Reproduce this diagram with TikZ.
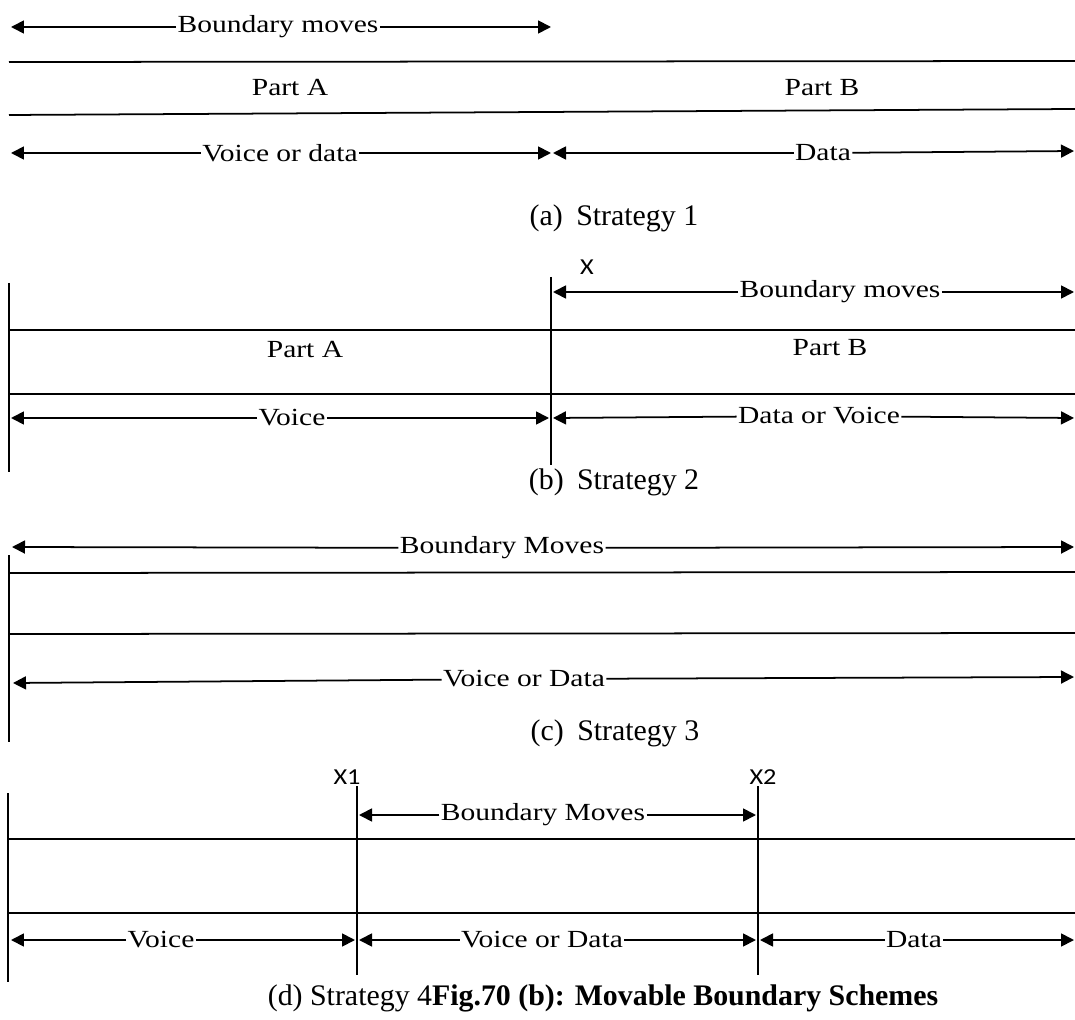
\documentclass[tikz,border=0pt]{standalone}
\usepackage{fontspec}
\setmainfont{Liberation Serif}
\newfontfamily\xfont{Carlito}
\usetikzlibrary{arrows.meta}

\tikzset{
  wire/.style={line width=1pt},
  dimarrow/.style={line width=1pt,-{Triangle[length=0.26cm,width=0.26cm]}},
  lbl/.style={font=\fontsize{14}{16}\selectfont,inner sep=0.5pt,xscale=1.2,transform shape},
  xlbl/.style={font=\xfont\fontsize{13}{15}\selectfont,inner sep=0pt,xscale=1.15,transform shape},
  capt/.style={font=\fontsize{17}{20}\selectfont,inner sep=0pt}
}

\begin{document}
\begin{tikzpicture}[x=0.02cm,y=-0.02cm]

\useasboundingbox (0,0) rectangle (1075,1020) ;

%strategy 1
\coordinate (a1) at (11,27) ;
\coordinate (a2) at (551,27) ;
\node [lbl] (abm) at (278,27) {Boundary moves} ;
\draw [dimarrow] (abm) -- (a1) ;
\draw [dimarrow] (abm) -- (a2) ;

\draw [wire] (9,62) -- (1075,61) ;
\draw [wire] (9,115) -- (1075,109) ;

\node [lbl] (apa) at (290,88) {Part A} ;
\node [lbl] (apb) at (822,88) {Part B} ;

\coordinate (a3) at (11,153) ;
\coordinate (a4) at (551,153) ;
\coordinate (a5) at (553,153) ;
\coordinate (a6) at (1074,151) ;
\node [lbl] (avd) at (280,153) {Voice or data} ;
\node [lbl] (ad) at (823,153) {Data} ;
\draw [dimarrow] (avd) -- (a3) ;
\draw [dimarrow] (avd) -- (a4) ;
\draw [dimarrow] (ad) -- (a5) ;
\draw [dimarrow] (ad) -- (a6) ;

\node [capt] (capa) at (614,218) {(a)\hspace{0.2em} Strategy 1} ;

%strategy 2
\draw [wire] (9,283) -- (9,472) ;
\draw [wire] (551,277) -- (551,465) ;
\node [xlbl] (bx) at (587,267) {X} ;

\coordinate (b1) at (553,292) ;
\coordinate (b2) at (1074,292) ;
\node [lbl] (bbm) at (840,292) {Boundary moves} ;
\draw [dimarrow] (bbm) -- (b1) ;
\draw [dimarrow] (bbm) -- (b2) ;

\draw [wire] (9,330) -- (1075,330) ;
\draw [wire] (9,394) -- (1075,394) ;

\node [lbl] (bpa) at (305,350) {Part A} ;
\node [lbl] (bpb) at (830,348) {Part B} ;

\coordinate (b3) at (11,418) ;
\coordinate (b4) at (549,418) ;
\coordinate (b5) at (553,418) ;
\coordinate (b6) at (1074,418) ;
\node [lbl] (bv) at (292,418) {Voice\hspace{0.4em}} ;
\node [lbl] (bdv) at (819,416) {Data or Voice} ;
\draw [dimarrow] (bv) -- (b3) ;
\draw [dimarrow] (bv) -- (b4) ;
\draw [dimarrow] (bdv) -- (b5) ;
\draw [dimarrow] (bdv) -- (b6) ;

\node [capt] (capb) at (614,482) {(b)\hspace{0.2em} Strategy 2} ;

%strategy 3
\draw [wire] (9,555) -- (9,742) ;

\coordinate (c1) at (12,547) ;
\coordinate (c2) at (1074,547) ;
\node [lbl] (cbm) at (502,548) {Boundary Moves} ;
\draw [dimarrow] (cbm) -- (c1) ;
\draw [dimarrow] (cbm) -- (c2) ;

\draw [wire] (9,573) -- (1075,572) ;
\draw [wire] (9,634) -- (1075,633) ;

\coordinate (c3) at (13,683) ;
\coordinate (c4) at (1074,677) ;
\node [lbl] (cvd) at (524,679) {Voice or Data} ;
\draw [dimarrow] (cvd) -- (c3) ;
\draw [dimarrow] (cvd) -- (c4) ;

\node [capt] (capc) at (615,733) {(c)\hspace{0.2em} Strategy 3} ;

%strategy 4
\draw [wire] (8,793) -- (8,982) ;
\draw [wire] (357,786) -- (357,975) ;
\draw [wire] (758,786) -- (758,975) ;
\node [xlbl] (dx1) at (347,777) {X1} ;
\node [xlbl] (dx2) at (763,777) {X2} ;

\coordinate (d1) at (359,815) ;
\coordinate (d2) at (756,815) ;
\node [lbl] (dbm) at (543,815) {Boundary Moves} ;
\draw [dimarrow] (dbm) -- (d1) ;
\draw [dimarrow] (dbm) -- (d2) ;

\draw [wire] (9,839) -- (1075,839) ;
\draw [wire] (9,913) -- (1075,913) ;

\coordinate (d3) at (11,940) ;
\coordinate (d4) at (355,940) ;
\coordinate (d5) at (359,940) ;
\coordinate (d6) at (756,940) ;
\coordinate (d7) at (760,940) ;
\coordinate (d8) at (1074,940) ;
\node [lbl] (dv) at (161,940) {Voice} ;
\node [lbl] (dvd) at (542,940) {Voice or Data} ;
\node [lbl] (dd) at (914,940) {Data} ;
\draw [dimarrow] (dv) -- (d3) ;
\draw [dimarrow] (dv) -- (d4) ;
\draw [dimarrow] (dvd) -- (d5) ;
\draw [dimarrow] (dvd) -- (d6) ;
\draw [dimarrow] (dd) -- (d7) ;
\draw [dimarrow] (dd) -- (d8) ;

%caption
\node [capt] (capd) at (603,998) {(d) Strategy 4\textbf{Fig.70 (b): Movable Boundary Schemes}} ;

\end{tikzpicture}
\end{document}
